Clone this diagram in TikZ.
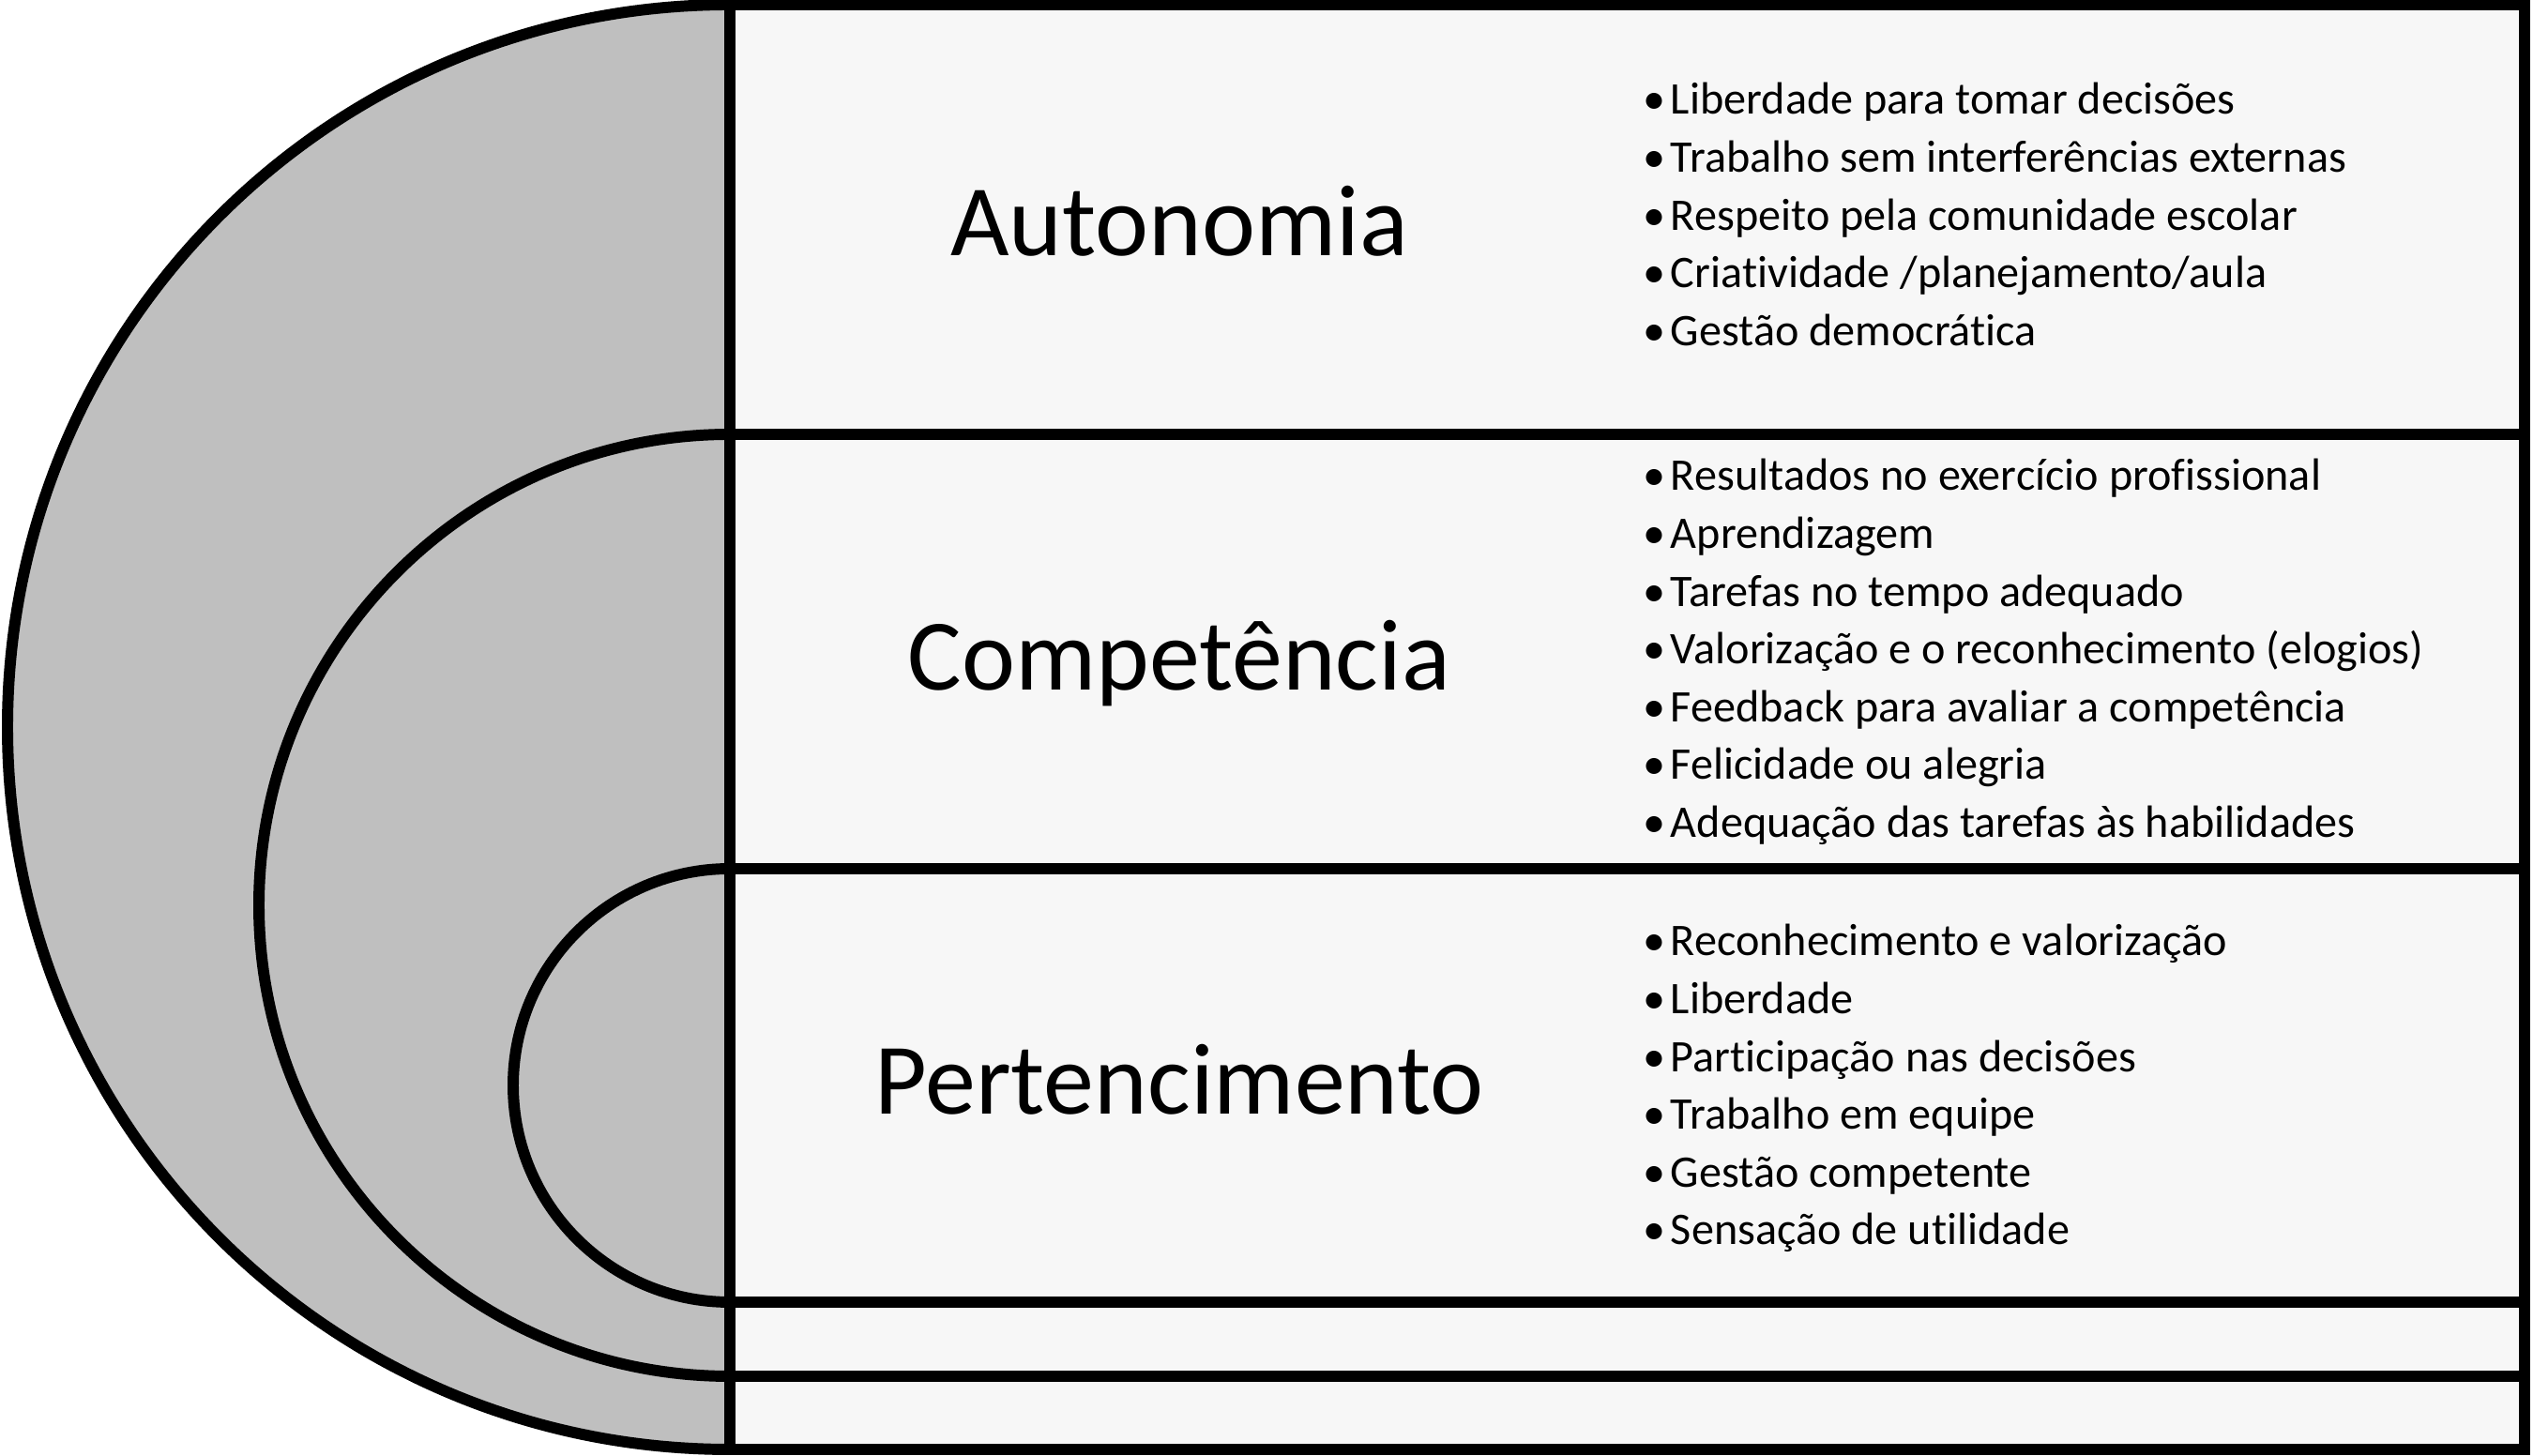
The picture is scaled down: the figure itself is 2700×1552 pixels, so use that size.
\documentclass[tikz,border=0pt]{standalone}
\usepackage{fontspec}
\setmainfont{Carlito}[Ligatures=NoCommon]
\usepackage{tikz}
\definecolor{diskgray}{gray}{0.75}
\definecolor{boxgray}{gray}{0.97}

\begin{document}
\begin{tikzpicture}[x=0.01cm,y=0.01cm]
\def\cLine{black}
\def\w{3.4pt}
\def\xm{778}
\def\xr{2691}
\def\dy{61.6}
\tikzset{
  disk/.style={draw=\cLine, fill=diskgray, line width=\w},
  band/.style={draw=\cLine, fill=boxgray, line width=\w},
  title/.style={anchor=base, inner sep=0pt, font=\fontsize{30.7}{36}\selectfont},
  item/.style={anchor=base west, inner sep=0pt, font=\fontsize{13.7}{17.5}\selectfont}
}
\useasboundingbox (0,0) rectangle (2700,1552);
% nested half disks
\draw[disk] (\xm,1547) arc[start angle=90, end angle=270, radius=770] -- cycle;
\draw[disk] (\xm,1089) arc[start angle=90, end angle=270, radius=502] -- cycle;
\draw[disk] (\xm,626) arc[start angle=90, end angle=270, radius=231] -- cycle;
% bands on the right
\draw[band] (\xm,1089) rectangle (\xr,1547);
\draw[band] (\xm,626) rectangle (\xr,1089);
\draw[band] (\xm,164) rectangle (\xr,626);
\draw[band] (\xm,85) rectangle (\xr,164);
\draw[band] (\xm,7) rectangle (\xr,85);
% titles
\node[title] (autonomia) at (1257,1279) {Autonomia};
\node[title] (competencia) at (1257,816) {Competência};
\node[title] (pertencimento) at (1257,364) {Pertencimento};
% lists
\foreach \txt [count=\i] in {Liberdade para tomar decisões, Trabalho sem interferências externas, Respeito pela comunidade escolar, Criatividade /planejamento/aula, Gestão democrática}
  \node[item] (aut\i) at (1751,{1430-(\i-1)*\dy}) {•\hspace{1.5pt}\txt};
\foreach \txt [count=\i] in {Resultados no exercício profissional, Aprendizagem, Tarefas no tempo adequado, Valorização e o reconhecimento (elogios), Feedback para avaliar a competência, Felicidade ou alegria, Adequação das tarefas às habilidades}
  \node[item] (comp\i) at (1751,{1029-(\i-1)*\dy}) {•\hspace{1.5pt}\txt};
\foreach \txt [count=\i] in {Reconhecimento e valorização, Liberdade, Participação nas decisões, Trabalho em equipe, Gestão competente, Sensação de utilidade}
  \node[item] (pert\i) at (1751,{533-(\i-1)*\dy}) {•\hspace{1.5pt}\txt};
\end{tikzpicture}
\end{document}
